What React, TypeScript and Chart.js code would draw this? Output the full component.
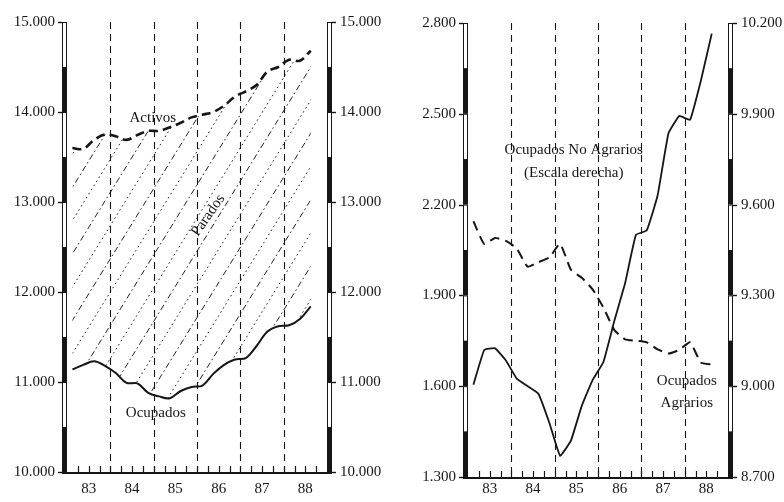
import React, { useEffect, useRef } from 'react';
import { Chart, registerables } from 'chart.js';

Chart.register(...registerables);

// Years on the horizontal axis (data are quarterly, 1983-I .. 1988-III)
const YEARS = ['83', '84', '85', '86', '87', '88'];

// Left panel (thousands of persons)
const activos = [
  13600, 13590, 13690, 13750, 13730, 13690, 13745, 13790, 13790, 13830, 13880, 13940,
  13970, 14000, 14070, 14170, 14230, 14300, 14450, 14500, 14580, 14570, 14680,
];
const ocupados = [
  11140, 11190, 11230, 11180, 11100, 10990, 10985, 10880, 10840, 10820, 10900, 10945,
  10960, 11090, 11190, 11250, 11265, 11400, 11560, 11620, 11630, 11700, 11840,
];

// Right panel
const agrarios = [
  2145, 2070, 2090, 2080, 2055, 1995, 2010, 2025, 2070, 1985, 1958, 1920,
  1860, 1786, 1755, 1750, 1745, 1722, 1708, 1720, 1745, 1678, 1672,
];
const noAgrarios = [
  9005, 9120, 9125, 9085, 9025, 9000, 8975, 8880, 8770, 8820, 8935, 9020,
  9080, 9215, 9340, 9500, 9515, 9630, 9835, 9893, 9880, 10010, 10165,
];

const LEFT_TICKS = [10000, 11000, 12000, 13000, 14000, 15000];
const RIGHT_A_TICKS = [1300, 1600, 1900, 2200, 2500, 2800];
const RIGHT_B_TICKS = [8700, 9000, 9300, 9600, 9900, 10200];

const FONT = '"Liberation Serif", "DejaVu Serif", serif';
const INK = '#161616';

const fmt = (v: number) => {
  const s = String(Math.round(v));
  return s.length > 3 ? s.slice(0, -3) + '.' + s.slice(-3) : s;
};
const qx = (i: number) => Number(YEARS[0]) + (i + 0.5) / 4;
const pts = (arr: number[]) => arr.map((y, i) => ({ x: qx(i), y }));

const decoPlugin = {
  id: 'deco',
  beforeDatasetsDraw(chart: any, _a: any, opts: any) {
    const { ctx, chartArea } = chart;
    const { left, right, top, bottom } = chartArea;
    const xs = chart.scales.x;
    ctx.save();
    // hatching between two datasets
    if (opts.hatch) {
      const a = chart.getDatasetMeta(opts.hatch[0]).data;
      const b = chart.getDatasetMeta(opts.hatch[1]).data;
      const cp = (p: any, k: string, d: number) => (p[k] == null || isNaN(p[k]) ? d : p[k]);
      ctx.beginPath();
      ctx.moveTo(a[0].x, a[0].y);
      for (let i = 1; i < a.length; i++) {
        ctx.bezierCurveTo(cp(a[i - 1], 'cp2x', a[i - 1].x), cp(a[i - 1], 'cp2y', a[i - 1].y),
          cp(a[i], 'cp1x', a[i].x), cp(a[i], 'cp1y', a[i].y), a[i].x, a[i].y);
      }
      const n = b.length;
      ctx.lineTo(b[n - 1].x, b[n - 1].y);
      for (let i = n - 1; i > 0; i--) {
        ctx.bezierCurveTo(cp(b[i], 'cp1x', b[i].x), cp(b[i], 'cp1y', b[i].y),
          cp(b[i - 1], 'cp2x', b[i - 1].x), cp(b[i - 1], 'cp2y', b[i - 1].y), b[i - 1].x, b[i - 1].y);
      }
      ctx.closePath();
      ctx.save();
      ctx.clip();
      const slope = 1.62;
      const h = bottom - top;
      ctx.strokeStyle = '#222';
      ctx.lineWidth = 1;
      let k = 0;
      for (let x0 = left - h / slope - 200; x0 < right + 40; x0 += 20.5) {
        ctx.setLineDash(k % 2 === 0 ? [1.6, 3.2] : [6, 3, 1.6, 3]);
        ctx.beginPath();
        ctx.moveTo(x0, bottom);
        ctx.lineTo(x0 + h / slope, top);
        ctx.stroke();
        k++;
      }
      ctx.restore();
    }
    // year boundaries
    ctx.strokeStyle = INK;
    ctx.lineWidth = 1.1;
    ctx.setLineDash([7, 5]);
    YEARS.slice(1).forEach((y) => {
      const px = Math.round(xs.getPixelForValue(Number(y))) + 0.5;
      ctx.beginPath();
      ctx.moveTo(px, top);
      ctx.lineTo(px, bottom);
      ctx.stroke();
    });
    ctx.restore();
  },
  afterDraw(chart: any, _a: any, opts: any) {
    const { ctx, chartArea } = chart;
    const { left, right, top, bottom } = chartArea;
    const xs = chart.scales.x;
    ctx.save();
    ctx.setLineDash([]);
    ctx.strokeStyle = INK;
    ctx.fillStyle = INK;
    // axis bars
    (opts.bars || []).forEach((bar: any) => {
      const sc = chart.scales[bar.id];
      const vals = sc.ticks.map((t: any) => t.value);
      const w = 5;
      const bx = bar.side === 'left' ? left - w : right;
      ctx.lineWidth = 1;
      for (let i = 0; i < vals.length - 1; i++) {
        const p0 = sc.getPixelForValue(vals[i]);
        const p1 = sc.getPixelForValue(vals[i + 1]);
        const mid = (p0 + p1) / 2;
        ctx.fillRect(bx, mid, w, p0 - mid);
        ctx.strokeRect(bx + 0.5, p1 + 0.5, w - 1, mid - p1);
      }
      ctx.lineWidth = 1.4;
      vals.forEach((v: number) => {
        const y = Math.round(sc.getPixelForValue(v)) + 0.5;
        ctx.beginPath();
        if (bar.side === 'left') {
          ctx.moveTo(bx - 4, y);
          ctx.lineTo(bx, y);
        } else {
          ctx.moveTo(bx + w, y);
          ctx.lineTo(bx + w + 4, y);
        }
        ctx.stroke();
      });
    });
    // bottom axis line and quarter ticks
    ctx.lineWidth = 2;
    ctx.beginPath();
    ctx.moveTo(left - 5, bottom + 1);
    ctx.lineTo(right + 5, bottom + 1);
    ctx.stroke();
    ctx.lineWidth = 1.2;
    const y0 = Number(YEARS[0]);
    for (let q = 1; q < YEARS.length * 4; q++) {
      const px = Math.round(xs.getPixelForValue(y0 + q / 4)) + 0.5;
      ctx.beginPath();
      ctx.moveTo(px, bottom);
      ctx.lineTo(px, bottom - 6);
      ctx.stroke();
    }
    // text labels
    ctx.font = `15px ${FONT}`;
    ctx.textAlign = 'center';
    ctx.textBaseline = 'middle';
    (opts.labels || []).forEach((lb: any) => {
      const px = xs.getPixelForValue(lb.x);
      const py = chart.scales[lb.scale].getPixelForValue(lb.y);
      ctx.save();
      ctx.translate(px, py);
      if (lb.rot) ctx.rotate(lb.rot);
      ctx.fillText(lb.text, 0, 0);
      ctx.restore();
    });
    ctx.restore();
  },
};

const tickFont = { family: FONT, size: 15 };

function xScale(pad: number) {
  return {
    type: 'linear',
    min: Number(YEARS[0]),
    max: Number(YEARS[YEARS.length - 1]) + 1,
    afterBuildTicks: (s: any) => {
      s.ticks = YEARS.map((y) => ({ value: Number(y) + 0.5 }));
    },
    afterFit: (s: any) => {
      s.height = 30;
    },
    ticks: {
      autoSkip: false,
      maxRotation: 0,
      padding: pad,
      color: INK,
      font: tickFont,
      callback: (v: any) => String(Math.floor(Number(v))),
    },
    grid: { display: false, drawTicks: false },
    border: { display: false },
  };
}

function yScale(position: string, ticks: number[], width: number, pad: number, display = true) {
  return {
    type: 'linear',
    position,
    display,
    min: ticks[0],
    max: ticks[ticks.length - 1],
    afterBuildTicks: (s: any) => {
      s.ticks = ticks.map((v) => ({ value: v }));
    },
    afterFit: (s: any) => {
      s.width = width;
    },
    ticks: {
      autoSkip: false,
      padding: pad,
      color: INK,
      font: tickFont,
      callback: (v: any) => fmt(Number(v)),
    },
    grid: { display: false, drawTicks: false },
    border: { display: false },
  };
}

function useChart(ref: React.RefObject<HTMLCanvasElement>, build: () => any) {
  useEffect(() => {
    if (!ref.current) return;
    const chart = new Chart(ref.current, build());
    return () => chart.destroy();
  }, []);
}

export default function App() {
  const leftRef = useRef<HTMLCanvasElement>(null);
  const rightRef = useRef<HTMLCanvasElement>(null);

  useChart(leftRef, () => ({
    type: 'line',
    data: {
      datasets: [
        {
          label: 'Activos',
          data: pts(activos),
          borderColor: INK,
          borderWidth: 2.6,
          borderDash: [9, 5],
          pointRadius: 0,
          tension: 0.35,
          fill: false,
          yAxisID: 'y',
        },
        {
          label: 'Ocupados',
          data: pts(ocupados),
          borderColor: INK,
          borderWidth: 2,
          pointRadius: 0,
          tension: 0.35,
          fill: false,
          yAxisID: 'y',
        },
      ],
    },
    options: {
      responsive: false,
      animation: false,
      devicePixelRatio: 1,
      layout: { autoPadding: false, padding: { top: 18, left: 0, right: 0, bottom: 0 } },
      scales: {
        x: xScale(8),
        y: yScale('left', LEFT_TICKS, 67, 12),
        y2: yScale('right', LEFT_TICKS, 65, 13),
      },
      plugins: {
        legend: { display: false },
        tooltip: { enabled: false },
        deco: {
          hatch: [0, 1],
          bars: [
            { id: 'y', side: 'left' },
            { id: 'y2', side: 'right' },
          ],
          labels: [
            { text: 'Activos', x: 84.98, y: 13932, scale: 'y' },
            { text: 'Parados', x: 86.26, y: 12852, scale: 'y', rot: -0.96 },
            { text: 'Ocupados', x: 85.05, y: 10650, scale: 'y' },
          ],
        },
      },
    },
    plugins: [decoPlugin],
  }));

  useChart(rightRef, () => ({
    type: 'line',
    data: {
      datasets: [
        {
          label: 'Ocupados No Agrarios',
          data: pts(noAgrarios),
          borderColor: INK,
          borderWidth: 1.8,
          pointRadius: 0,
          tension: 0.1,
          fill: false,
          yAxisID: 'y2',
        },
        {
          label: 'Ocupados Agrarios',
          data: pts(agrarios),
          borderColor: INK,
          borderWidth: 2,
          borderDash: [10, 6],
          pointRadius: 0,
          tension: 0.15,
          fill: false,
          yAxisID: 'y',
        },
      ],
    },
    options: {
      responsive: false,
      animation: false,
      devicePixelRatio: 1,
      layout: { autoPadding: false, padding: { top: 23, left: 0, right: 0, bottom: 0 } },
      scales: {
        x: { ...xScale(3), afterFit: (s: any) => { s.height = 25; } },
        y: yScale('left', RIGHT_A_TICKS, 76, 12),
        y2: yScale('right', RIGHT_B_TICKS, 56, 13),
      },
      plugins: {
        legend: { display: false },
        tooltip: { enabled: false },
        deco: {
          bars: [
            { id: 'y', side: 'left' },
            { id: 'y2', side: 'right' },
          ],
          labels: [
            { text: 'Ocupados No Agrarios', x: 85.44, y: 2380, scale: 'y' },
            { text: '(Escala derecha)', x: 85.44, y: 2304, scale: 'y' },
            { text: 'Ocupados', x: 88.05, y: 1617, scale: 'y' },
            { text: 'Agrarios', x: 88.05, y: 1545, scale: 'y' },
          ],
        },
      },
    },
    plugins: [decoPlugin],
  }));

  return (
    <div
      style={{
        position: 'fixed',
        left: 0,
        top: 0,
        width: 784,
        height: 502,
        background: '#fff',
        display: 'flex',
      }}
    >
      <canvas ref={leftRef} width={392} height={502} style={{ width: 392, height: 502, display: 'block' }} />
      <canvas ref={rightRef} width={392} height={502} style={{ width: 392, height: 502, display: 'block' }} />
    </div>
  );
}
